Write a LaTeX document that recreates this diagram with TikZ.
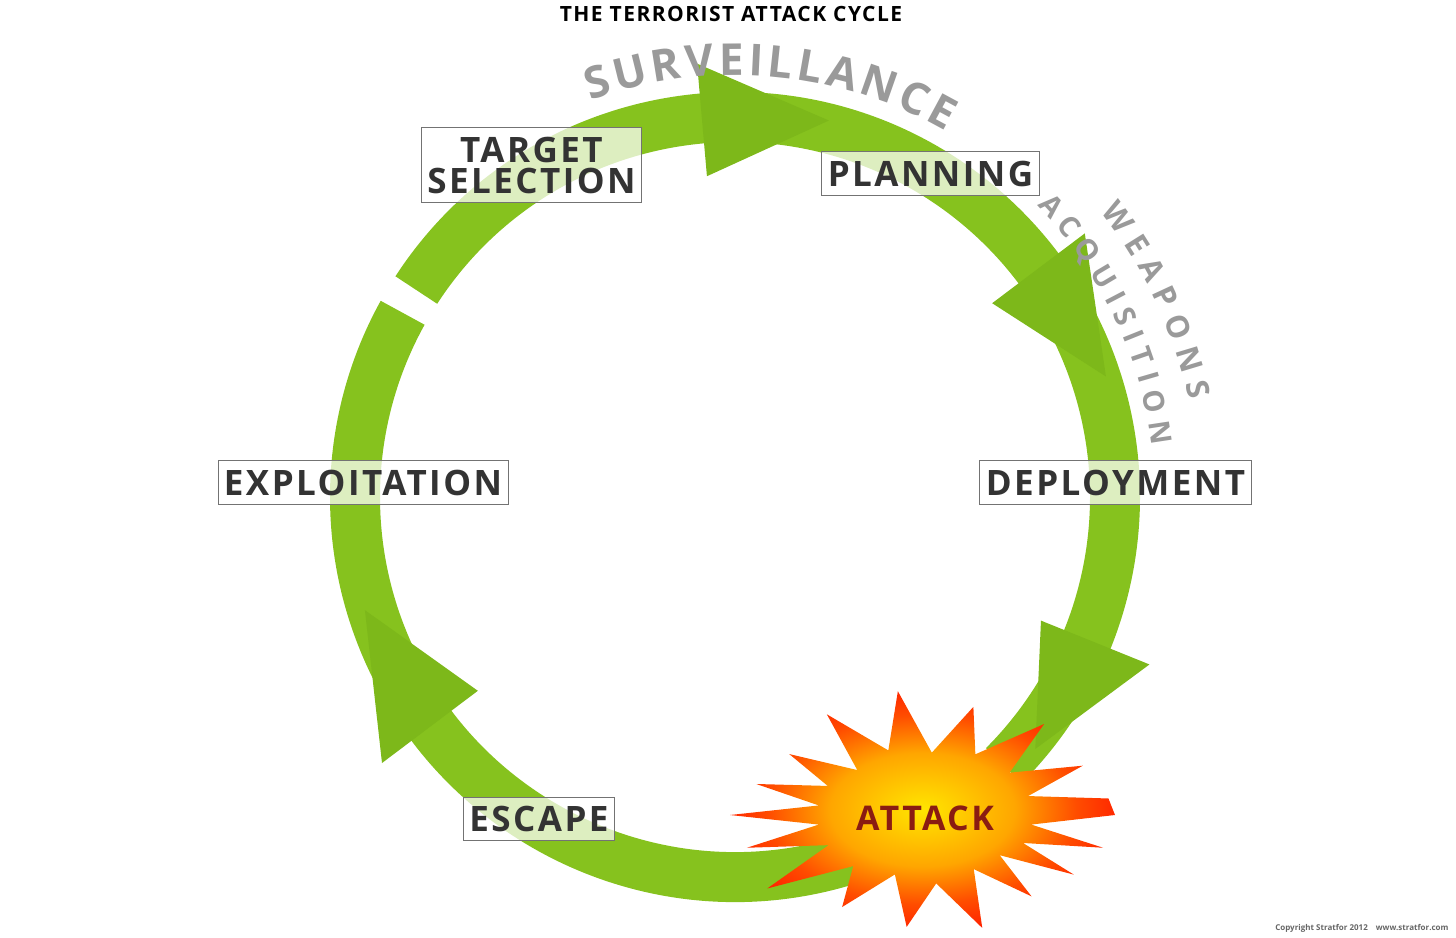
\documentclass[tikz,border=0pt]{standalone}
\usepackage{fontspec}
\setmainfont{Open Sans}
\newfontfamily\wide[LetterSpace=7]{Open Sans}
\usetikzlibrary{decorations.text}
\definecolor{ringg}{HTML}{86C21E}
\definecolor{headg}{HTML}{7DB81A}
\definecolor{txt}{HTML}{333333}
\definecolor{arcg}{HTML}{9A9A9A}
\definecolor{attk}{HTML}{8A1C12}
\pgfdeclareradialshading{burst}{\pgfpoint{0bp}{0bp}}{color(0bp)=(yellow!80!orange);color(12bp)=(orange!70!yellow);color(20bp)=(orange!60!red);color(28bp)=(red!85!orange);color(50bp)=(red!80!black)}
\begin{document}
\begin{tikzpicture}[x=1pt,y=-1pt,
  ring/.style={line width=50pt,draw=ringg},
  head/.style={fill=headg},
  box/.style={draw=black!55,line width=0.8pt,fill=white,fill opacity=0.72,text opacity=1,
    text=txt,font=\wide\fontsize{35}{37}\selectfont\bfseries,inner xsep=6pt,inner ysep=9pt,align=center},
  arctext/.style={decorate,decoration={text along path,text align=fit to path,
    text color=arcg}}]
\useasboundingbox (0,0) rectangle (1456,937);
\node[font=\wide\fontsize{21}{22}\selectfont\bfseries] (title) at (731,14) {THE TERRORIST ATTACK CYCLE};
\begin{scope}[shift={(735,497)}]
  \draw[ring] (213:380) arc[start angle=213,end angle=405,radius=380];
  \draw[ring] (70:380) arc[start angle=70,end angle=209,radius=380];
  \fill[head] (284:388) -- (265:435) -- (265:322) -- cycle;
  \fill[head] (342:390) -- (323:438) -- (323:322) -- cycle;
  \fill[head] (40:392) -- (22:447) -- (22:330) -- cycle;
  \fill[head] (163:387) -- (143:442) -- (143:322) -- cycle;
  \path[arctext,decoration={text={|\fontsize{44}{44}\selectfont\bfseries|SURVEILLANCE}}]
    (250:422) arc[start angle=250,end angle=300,radius=422];
  \path[arctext,decoration={text={|\fontsize{31}{31}\selectfont\bfseries|WEAPONS}}]
    (322:464) arc[start angle=322,end angle=348,radius=464];
  \path[arctext,decoration={text={|\fontsize{29}{29}\selectfont\bfseries|ACQUISITION}}]
    (316:420) arc[start angle=316,end angle=353,radius=420];
\end{scope}
\shade[shading=burst]
  (925,815) ++(0:190)
  \foreach \a/\f in {8/0.55,16/0.95,24/0.55,32/0.9,40/0.5,50/0.85,60/0.5,72/0.95,84/0.55,96/0.9,108/0.5,120/0.85,132/0.55,144/1.0,154/0.55,164/0.95,172/0.55,180/1.0,188/0.55,196/0.9,205/0.55,215/0.85,226/0.5,238/0.95,250/0.55,262/1.0,274/0.5,286/0.9,298/0.55,310/0.95,322/0.55,334/0.9,344/0.55,352/0.95}
  {-- ({925+195*\f*cos(\a)},{815+125*\f*sin(\a)})} -- cycle;
\node[font=\wide\fontsize{34}{36}\selectfont\bfseries,text=attk] (attack) at (925,818) {ATTACK};
\node[box] (ts) at (531.5,165) {TARGET\\[-6pt]SELECTION};
\node[box] (pl) at (930.5,173.5) {PLANNING};
\node[box] (de) at (1115.5,482.5) {DEPLOYMENT};
\node[box] (ex) at (363,482.5) {EXPLOITATION};
\node[box] (es) at (539,819) {ESCAPE};
\node[font=\fontsize{8}{9}\selectfont\bfseries,text=black!60,anchor=east] (copy) at (1452,928) {Copyright Stratfor 2012\quad www.stratfor.com};
\end{tikzpicture}
\end{document}
